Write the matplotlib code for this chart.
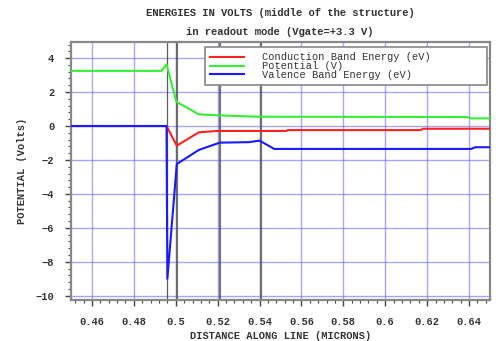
import matplotlib
matplotlib.use("Agg")
import matplotlib.pyplot as plt
from matplotlib.ticker import AutoMinorLocator

# Data (microns, volts)
x_pot = [0.45, 0.4932, 0.4956, 0.5003, 0.511, 0.520, 0.539, 0.639, 0.641, 0.65]
y_pot = [3.25, 3.25, 3.63, 1.43, 0.69, 0.63, 0.55, 0.53, 0.45, 0.45]

x_cb = [0.45, 0.4956, 0.5005, 0.511, 0.520, 0.5527, 0.5535, 0.617, 0.618, 0.65]
y_cb = [0.0, 0.0, -1.16, -0.37, -0.29, -0.29, -0.24, -0.24, -0.16, -0.16]

x_vb = [0.45, 0.4956, 0.496, 0.5005, 0.511, 0.521, 0.535, 0.540, 0.547, 0.641, 0.643, 0.65]
y_vb = [0.0, 0.0, -9.0, -2.24, -1.41, -0.98, -0.95, -0.86, -1.35, -1.35, -1.25, -1.25]

region_bounds = [0.4956, 0.5005, 0.521, 0.5405]

labels = ["Conduction Band Energy (eV)", "Potential (V)", "Valence Band Energy (eV)"]
title1 = "ENERGIES IN VOLTS (middle of the structure)"
title2 = "in readout mode (Vgate=+3.3 V)"
xlabel = "DISTANCE ALONG LINE (MICRONS)"
ylabel = "POTENTIAL (Volts)"
xticks = [0.46, 0.48, 0.5, 0.52, 0.54, 0.56, 0.58, 0.6, 0.62, 0.64]
xticklabels = ["0.46", "0.48", "0.5", "0.52", "0.54", "0.56", "0.58", "0.6", "0.62", "0.64"]
yticks = [-10, -8, -6, -4, -2, 0, 2, 4]

FONT = "Liberation Mono"
fig = plt.figure(figsize=(5.03, 3.41), dpi=100)
ax = fig.add_axes([71/503, 1 - 300/341, (490-71)/503, (300-42)/341])

ax.set_xlim(0.45, 0.65)
ax.set_ylim(-10.25, 4.95)

ax.set_xticks(xticks)
ax.set_xticklabels(xticklabels)
ax.set_yticks(yticks)
ax.xaxis.set_minor_locator(AutoMinorLocator(5))
ax.yaxis.set_minor_locator(AutoMinorLocator(5))
ax.grid(True, which="major", color="#6a6aff", alpha=0.6, lw=1.0)
ax.set_axisbelow(True)

for i, b in enumerate(region_bounds):
    ax.axvline(b, color="#555555" if i else "#333333", lw=1.6 if i else 0.9, alpha=0.8, zorder=1.5)

l_cb, = ax.plot(x_cb, y_cb, color="#ff2020", lw=1.5, zorder=3)
l_pot, = ax.plot(x_pot, y_pot, color="#33ee33", lw=1.5, zorder=3)
l_vb, = ax.plot(x_vb, y_vb, color="#1a1aff", lw=1.5, zorder=3)

for s in ax.spines.values():
    s.set_color("#888888")
    s.set_linewidth(1.6)

ax.tick_params(which="major", direction="out", length=4, width=1, color="#444444",
               labelsize=7.5, pad=8)
ax.tick_params(which="minor", direction="out", length=2.5, width=0.8, color="#444444")
for lab in ax.get_xticklabels() + ax.get_yticklabels():
    lab.set_fontfamily(FONT)
    lab.set_fontweight("bold")
    lab.set_color("#333333")

ax.set_xlabel(xlabel, fontfamily=FONT, fontsize=7.5, fontweight="bold", color="#333333", labelpad=3)
ax.set_ylabel(ylabel, fontfamily=FONT, fontsize=7.5, fontweight="bold", color="#333333", labelpad=6)

fig.text(0.557, 1 - 13/341, title1, ha="center", va="center", fontfamily=FONT,
         fontsize=7.6, fontweight="bold", color="#333333")
fig.text(0.557, 1 - 32/341, title2, ha="center", va="center", fontfamily=FONT,
         fontsize=7.6, fontweight="bold", color="#333333")

leg = ax.legend([l_cb, l_pot, l_vb], labels, loc="upper left",
                bbox_to_anchor=((205-71)/419, 1 - 44/258, (487-205)/419, 39/258),
                mode="expand", prop={"family": FONT, "size": 7.5}, frameon=True,
                fancybox=False, edgecolor="#888888", framealpha=1,
                handlelength=3.2, handletextpad=1.8, labelspacing=-0.1,
                borderpad=0.5, borderaxespad=0)
leg.get_frame().set_linewidth(1.2)
for t in leg.get_texts():
    t.set_color("#333333")
leg.set_zorder(5)

fig.savefig("out.png", dpi=100)
